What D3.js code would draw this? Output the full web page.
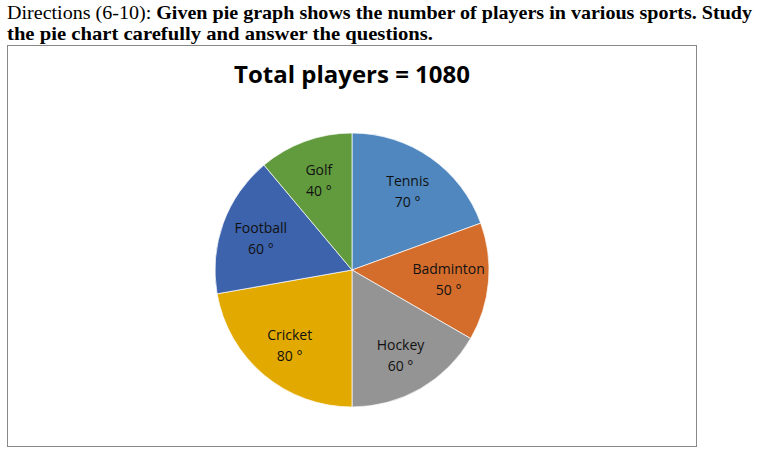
<!DOCTYPE html>
<html>
<head>
<meta charset="utf-8">
<script src="https://cdn.jsdelivr.net/npm/d3@7"></script>
<style>
  body { margin: 0; background: #fff; }
</style>
</head>
<body>
<svg id="chart" width="769" height="456"></svg>
<script>
// pie data (degrees)
var sports = ["Tennis", "Badminton", "Hockey", "Cricket", "Football", "Golf"];
var degrees = [70, 50, 60, 80, 60, 40];
var colors = ["#4f87be", "#d46d2c", "#949494", "#e2a900", "#3d63ac", "#629b3e"];
var totalPlayers = 1080;

var svg = d3.select("#chart");
var serif = "'Liberation Serif', 'DejaVu Serif', serif";

// heading text above the box
var head = svg.append("text")
  .attr("x", 7).attr("y", 19)
  .attr("textLength", 745).attr("lengthAdjust", "spacingAndGlyphs")
  .style("font-family", serif)
  .style("font-size", "19px")
  .attr("fill", "#000");
head.append("tspan").text("Directions (6-10): ");
head.append("tspan").attr("font-weight", "bold")
  .text("Given pie graph shows the number of players in various sports. Study");
svg.append("text")
  .attr("x", 7).attr("y", 40)
  .attr("textLength", 426).attr("lengthAdjust", "spacingAndGlyphs")
  .style("font-family", serif)
  .style("font-size", "19px")
  .attr("font-weight", "bold")
  .text("the pie chart carefully and answer the questions.");

// chart frame
svg.append("rect")
  .attr("x", 7.5).attr("y", 45.5)
  .attr("width", 689).attr("height", 401)
  .attr("fill", "#fff")
  .attr("stroke", "#888").attr("stroke-width", 1);

svg.append("text")
  .attr("x", 352).attr("y", 83)
  .attr("text-anchor", "middle")
  .style("font-family", "'Open Sans', 'Liberation Sans', sans-serif")
  .style("font-size", "24px")
  .attr("font-weight", "bold")
  .text("Total players = " + totalPlayers);

var cx = 352, cy = 270, radius = 137;
var data = sports.map(function(s, i) { return {name: s, deg: degrees[i], color: colors[i]}; });

var pie = d3.pie().sort(null).value(function(d) { return d.deg; });
var arc = d3.arc().innerRadius(0).outerRadius(radius);
var labelArc = d3.arc().innerRadius(97).outerRadius(97);

var g = svg.append("g").attr("transform", "translate(" + cx + "," + cy + ")");

var slices = g.selectAll("g.slice").data(pie(data)).enter().append("g").attr("class", "slice");

slices.append("path")
  .attr("d", arc)
  .attr("fill", function(d) { return d.data.color; })
  .attr("stroke", "#fff").attr("stroke-width", 0.7);

var labels = slices.append("text")
  .attr("transform", function(d) { return "translate(" + labelArc.centroid(d) + ")"; })
  .attr("text-anchor", "middle")
  .style("font-family", "'Open Sans', 'Liberation Sans', sans-serif")
  .style("font-size", "14px")
  .attr("fill", "#111");
labels.append("tspan").attr("x", 0).attr("dy", "-0.3em").text(function(d) { return d.data.name; });
labels.append("tspan").attr("x", 0).attr("dy", "1.5em")
  .text(function(d) { return d.data.deg + " °"; });
</script>
</body>
</html>
